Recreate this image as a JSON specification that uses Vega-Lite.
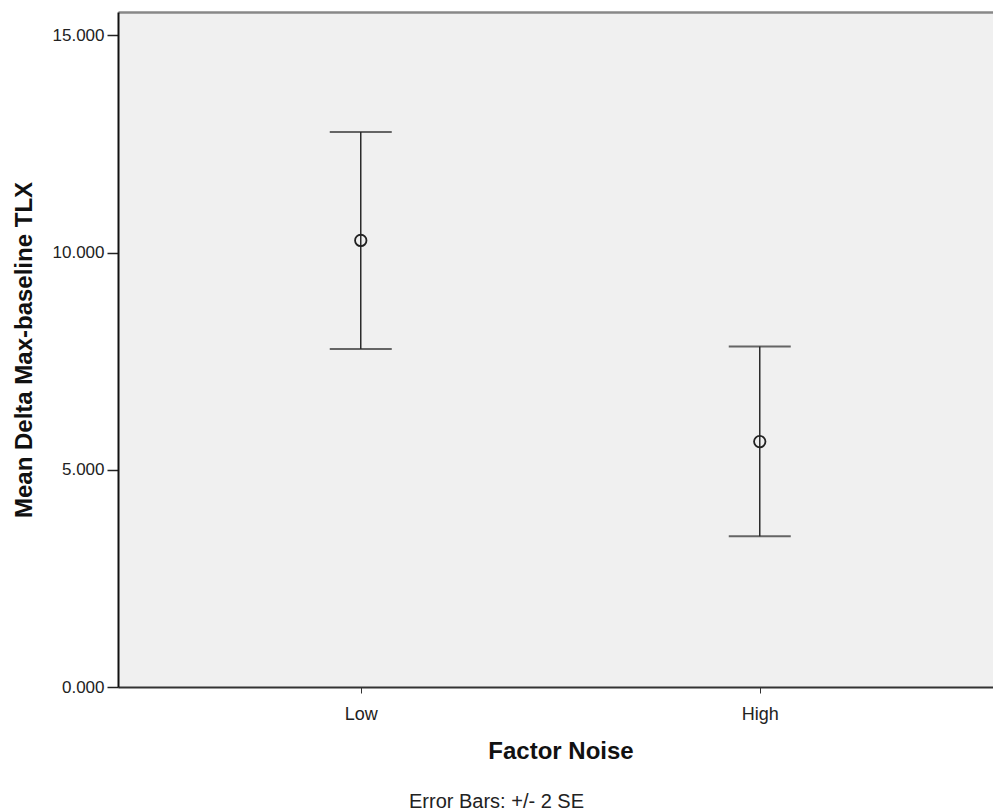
{
  "$schema": "https://vega.github.io/schema/vega-lite/v6.json",
  "autosize": "none",
  "width": 875,
  "height": 675,
  "padding": {"left": 118, "top": 12, "right": 0, "bottom": 124},
  "background": "#ffffff",
  "config": {
    "font": "Liberation Sans",
    "view": {"fill": "#F0F0F0", "stroke": null},
    "axis": {"grid": false}
  },
  "title": {
    "text": "Error Bars:  +/- 2 SE",
    "orient": "bottom",
    "anchor": "middle",
    "frame": "group",
    "fontSize": 20,
    "fontWeight": "normal",
    "font": "Liberation Sans",
    "color": "#222222",
    "dx": -59,
    "offset": 29
  },
  "data": {
    "values": [
      {"noise": "Low", "mean": 10.28, "lower": 7.78, "upper": 12.78},
      {"noise": "High", "mean": 5.65, "lower": 3.47, "upper": 7.84}
    ]
  },
  "resolve": {"axis": {"x": "independent"}},
  "layer": [
    {
      "mark": {"type": "rule", "color": "#2a2a2a", "strokeWidth": 1.5},
      "encoding": {
        "x": {
          "field": "noise",
          "type": "nominal",
          "sort": ["Low", "High"],
          "scale": {"type": "point", "padding": 0.5965, "align": 0.51},
          "axis": {
            "title": "Factor Noise",
            "titleFontSize": 24,
            "titleFontWeight": "bold",
            "titleColor": "#111111",
            "titleBaseline": "alphabetic",
            "titleX": 442.5,
            "titleY": 71,
            "labelFontSize": 18,
            "labelColor": "#222222",
            "labelBaseline": "alphabetic",
            "labelPadding": 26,
            "labelAngle": 0,
            "tickSize": 6,
            "tickColor": "#333333",
            "domainColor": "#333333",
            "domainWidth": 2
          }
        },
        "y": {
          "field": "lower",
          "type": "quantitative",
          "scale": {"domain": [0, 15.54], "nice": false, "zero": false},
          "axis": {
            "title": "Mean Delta Max-baseline TLX",
            "titleFontSize": 24,
            "titleFontWeight": "bold",
            "titleColor": "#111111",
            "titleAngle": 270,
            "titleBaseline": "alphabetic",
            "titleX": -87,
            "titleY": 337.5,
            "values": [0, 5, 10, 15],
            "format": ".3f",
            "labelFontSize": 17,
            "labelColor": "#222222",
            "labelPadding": 3,
            "tickSize": 11,
            "tickColor": "#222222",
            "tickWidth": 1.5,
            "domainColor": "#111111",
            "domainWidth": 2
          }
        },
        "y2": {"field": "upper"}
      }
    },
    {
      "mark": {"type": "tick", "color": "#2a2a2a", "size": 62, "thickness": 2},
      "encoding": {
        "x": {
          "field": "noise",
          "type": "nominal",
          "sort": ["Low", "High"],
          "axis": {
            "orient": "top",
            "title": null,
            "labels": false,
            "ticks": false,
            "domainColor": "#888888",
            "domainWidth": 2.5
          }
        },
        "y": {"field": "lower", "type": "quantitative"}
      }
    },
    {
      "mark": {"type": "tick", "color": "#2a2a2a", "size": 62, "thickness": 2},
      "encoding": {
        "x": {"field": "noise", "type": "nominal", "sort": ["Low", "High"], "axis": null},
        "y": {"field": "upper", "type": "quantitative"}
      }
    },
    {
      "mark": {"type": "point", "shape": "circle", "filled": false, "size": 130, "color": "#222222", "strokeWidth": 1.8, "opacity": 1},
      "encoding": {
        "x": {"field": "noise", "type": "nominal", "sort": ["Low", "High"], "axis": null},
        "y": {"field": "mean", "type": "quantitative"}
      }
    }
  ]
}
